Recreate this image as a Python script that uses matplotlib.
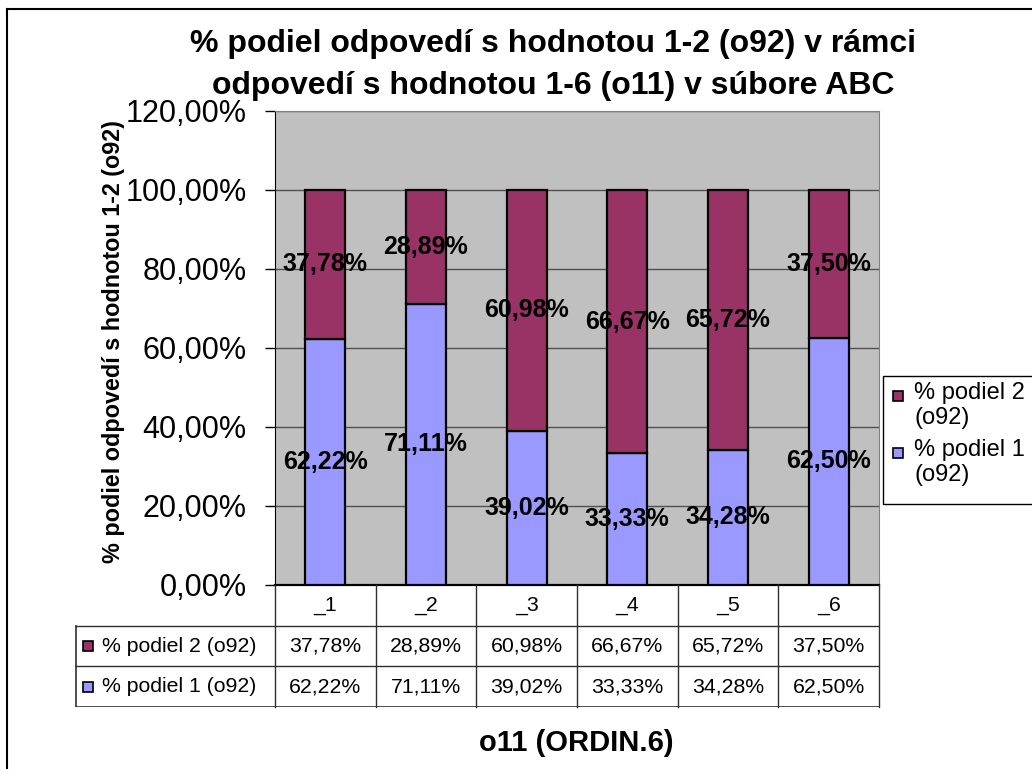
import matplotlib.pyplot as plt
import numpy as np
from matplotlib.patches import Rectangle
from matplotlib.lines import Line2D

plt.rcParams['font.family'] = ['Liberation Sans', 'DejaVu Sans']

categories = ['_1', '_2', '_3', '_4', '_5', '_6']
podiel_1 = [62.22, 71.11, 39.02, 33.33, 34.28, 62.50]
podiel_2 = [37.78, 28.89, 60.98, 66.67, 65.72, 37.50]
series_names = ['% podiel 1 (o92)', '% podiel 2 (o92)']
legend_names = ['% podiel 1\n(o92)', '% podiel 2\n(o92)']
yticks = [0, 20, 40, 60, 80, 100, 120]

title_1 = '% podiel odpovedí s hodnotou 1-2 (o92) v rámci'
title_2 = 'odpovedí s hodnotou 1-6 (o11) v súbore ABC'
ylabel = '% podiel odpovedí s hodnotou 1-2 (o92)'
xlabel = 'o11 (ORDIN.6)'

c1 = '#9999FF'
c2 = '#993366'


def pct(v):
    return f'{v:.2f}'.replace('.', ',') + '%'


W, H = 1032, 769
fig = plt.figure(figsize=(W / 100, H / 100), dpi=100)


def fx(px):
    return px / W


def fy(py):
    return 1 - py / H


# plot area (pixel box)
L, R, T, B = 275, 879, 110.7, 585
ax = fig.add_axes([fx(L), fy(B), fx(R - L), (B - T) / H])
ax.set_facecolor('#C0C0C0')
x = np.arange(len(categories))
ax.bar(x, podiel_1, 0.4, color=c1, edgecolor='black', linewidth=1.6, zorder=3)
ax.bar(x, podiel_2, 0.4, bottom=podiel_1, color=c2, edgecolor='black',
       linewidth=1.6, zorder=3)
ax.set_xlim(-0.5, len(categories) - 0.5)
ax.set_ylim(0, 120)
ax.set_yticks(yticks)
ax.set_yticklabels([pct(t) for t in yticks])
ax.set_xticks([])
ax.tick_params(axis='y', length=7.5, width=1, pad=13, labelsize=22)
ax.yaxis.grid(True, color='#505050', linewidth=1)
ax.set_axisbelow(True)
for s in ['top', 'right']:
    ax.spines[s].set_color('#808080')
ax.spines['left'].set_color('black')
ax.spines['bottom'].set_linewidth(1.6)

# data labels
for i in range(len(categories)):
    ax.text(i, podiel_1[i] / 2, pct(podiel_1[i]), ha='center', va='center',
            fontsize=18, fontweight='bold', zorder=5)
    ax.text(i, podiel_1[i] + podiel_2[i] / 2, pct(podiel_2[i]), ha='center',
            va='center', fontsize=18, fontweight='bold', zorder=5)

# data table under the plot
TL, TB = 75, 707
tab = fig.add_axes([fx(TL), fy(TB), fx(R - TL), (TB - B) / H])
tab.set_xlim(TL, R)
tab.set_ylim(TB, B)
tab.axis('off')
cw = (R - L) / len(categories)
rh = (TB - B) / 3
lc = '#303030'
for j in range(len(categories) + 1):
    tab.plot([L + j * cw - (0.5 if j == len(categories) else 0)] * 2, [B, TB],
             color=lc, lw=1, clip_on=False)
tab.plot([TL, R], [B + rh] * 2, color=lc, lw=1)
tab.plot([TL, R], [B + 2 * rh] * 2, color=lc, lw=1)
tab.plot([TL, R], [TB - 0.5] * 2, color=lc, lw=1.2)
tab.plot([TL + 0.5] * 2, [B + rh, TB], color=lc, lw=1.2)
for j, c in enumerate(categories):
    tab.text(L + (j + 0.5) * cw, B + rh / 2, c, ha='center', va='center',
             fontsize=15.3)
rows = [(series_names[1], podiel_2, c2), (series_names[0], podiel_1, c1)]
for r, (name, vals, col) in enumerate(rows):
    yc = B + (r + 1.5) * rh
    tab.add_patch(Rectangle((TL + 8, yc - 5), 10, 10, facecolor=col,
                            edgecolor='black', lw=1.2))
    tab.text(TL + 27, yc, name, ha='left', va='center', fontsize=15.3)
    for j, v in enumerate(vals):
        tab.text(L + (j + 0.5) * cw, yc, pct(v), ha='center', va='center',
                 fontsize=15.3)

# legend box at the right
fig.patches.append(Rectangle((fx(883), fy(504)), fx(170), (504 - 376) / H,
                             transform=fig.transFigure, facecolor='white',
                             edgecolor='black', lw=1))
leg_items = [(legend_names[1], c2, 396), (legend_names[0], c1, 453)]
for name, col, yl in leg_items:
    fig.patches.append(Rectangle((fx(893), fy(yl + 5)), fx(10), 10 / H,
                                 transform=fig.transFigure, facecolor=col,
                                 edgecolor='black', lw=1.2))
    fig.text(fx(914), fy(yl - 14), name, ha='left', va='top', fontsize=17,
             linespacing=1.2)

# titles
fig.text(fx(553), fy(44), title_1, ha='center', va='center', fontsize=23,
         fontweight='bold')
fig.text(fx(553), fy(86), title_2, ha='center', va='center', fontsize=23,
         fontweight='bold')
fig.text(fx(114), fy(342), ylabel, ha='center', va='center', rotation=90,
         fontsize=16.8, fontweight='bold')
fig.text(fx(576), fy(743), xlabel, ha='center', va='center', fontsize=21,
         fontweight='bold')

# chart border (right/bottom edges fall outside the picture)
fig.add_artist(Line2D([fx(7), fx(7)], [fy(9), 0], transform=fig.transFigure,
                      color='black', lw=1.5))
fig.add_artist(Line2D([fx(7), 1], [fy(9), fy(9)], transform=fig.transFigure,
                      color='black', lw=1.5))

fig.savefig('out.png', dpi=100)
